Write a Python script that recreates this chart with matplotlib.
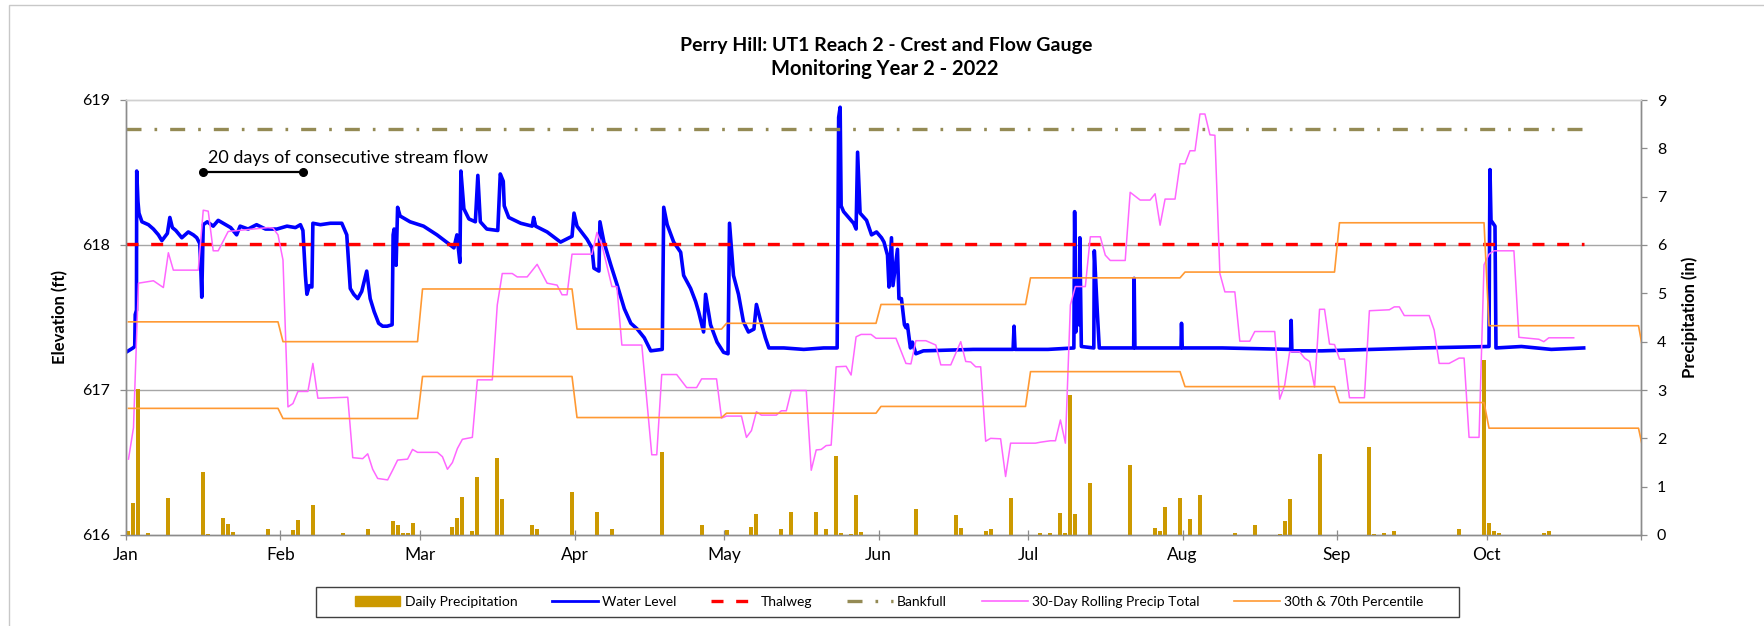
import numpy as np
import pandas as pd
import matplotlib
matplotlib.use("Agg")
import matplotlib.pyplot as plt
from matplotlib.patches import Rectangle, Patch
from matplotlib.lines import Line2D

plt.rcParams["font.family"] = ["Lato", "DejaVu Sans"]

YEAR_START = pd.Timestamp("2022-01-01")

# daily precipitation (in), day index counted from Jan 1
precip_day = [0, 1, 2, 4, 8, 15, 16, 19, 20, 21, 28,
              33, 34, 37, 43, 48, 53, 54, 55, 56, 57,
              65, 66, 67, 69, 70, 74, 75, 81, 82, 89,
              94, 97, 107, 115,
              120, 125, 126, 131, 133, 138, 140, 142, 143, 145, 146, 147,
              158, 166, 167, 172, 173, 177,
              183, 185, 187, 188, 189, 190, 193, 201, 206, 207, 208, 211,
              213, 215, 222, 226, 231, 232, 233, 239,
              249, 250, 252, 254, 267, 272,
              273, 274, 275, 284, 285]
precip_in = [0.09, 0.66, 3.03, 0.05, 0.76, 1.30, 0.03, 0.35, 0.22, 0.07, 0.12,
             0.11, 0.31, 0.62, 0.05, 0.12, 0.28, 0.21, 0.05, 0.05, 0.24,
             0.16, 0.35, 0.79, 0.08, 1.19, 1.59, 0.74, 0.21, 0.12, 0.88,
             0.47, 0.12, 1.71, 0.21,
             0.11, 0.17, 0.43, 0.12, 0.47, 0.47, 0.12, 1.64, 0.05, 0.03, 0.83, 0.07,
             0.53, 0.41, 0.14, 0.09, 0.12, 0.77,
             0.05, 0.05, 0.46, 0.04, 2.90, 0.43, 1.07, 1.45, 0.14, 0.09, 0.57, 0.77,
             0.34, 0.82, 0.05, 0.21, 0.03, 0.30, 0.74, 1.68,
             1.83, 0.03, 0.05, 0.09, 0.12, 3.62,
             0.24, 0.08, 0.05, 0.05, 0.09]

# 30-day rolling precipitation total (in)
roll_day = [0, 1, 2, 5, 7, 8, 9, 14, 15, 16, 17, 18, 20, 28, 29, 30, 31, 32, 33, 34,
            36, 37, 38, 44, 45, 47, 48, 49, 50, 52, 53, 54, 56, 57, 58, 62, 63, 64,
            65, 66, 67, 69, 70, 73, 74, 75, 77, 78, 80, 82, 84, 86, 87, 88, 89, 93,
            94, 95, 97, 98, 99, 103, 105, 106, 107, 110, 112, 114, 115, 118, 119,
            120, 123, 124, 125, 126, 127, 130, 131, 132, 133, 136, 137, 138, 139,
            140, 141, 142, 144, 145, 146, 147, 149, 150, 154, 156, 157, 158, 160,
            162, 163, 165, 167, 168, 169, 170, 171, 172, 173, 175, 176, 177, 182,
            183, 185, 186, 187, 188, 189, 190, 192, 193, 195, 196, 197, 200, 201,
            203, 205, 206, 207, 208, 210, 211, 212, 213, 214, 215, 216, 217, 218,
            219, 220, 222, 223, 225, 226, 230, 231, 232, 233, 235, 236, 237, 238,
            239, 240, 241, 242, 243, 244, 245, 248, 249, 253, 254, 255, 256, 261,
            262, 263, 265, 267, 268, 269, 271, 272, 273, 274, 278, 279, 281, 283,
            284, 285, 290]
roll_in = [1.57, 2.22, 5.21, 5.26, 5.12, 5.84, 5.48, 5.48, 6.72, 6.70, 5.88, 5.88, 6.28,
           6.36, 6.35, 6.21, 5.69, 2.65, 2.72, 2.97,
           2.97, 3.55, 2.83, 2.85, 1.60, 1.58, 1.68, 1.36, 1.17, 1.14, 1.34, 1.55, 1.57,
           1.77, 1.71, 1.71, 1.62, 1.36,
           1.50, 1.79, 1.98, 2.02, 3.21, 3.21, 4.76, 5.41, 5.41, 5.34, 5.34, 5.60, 5.21,
           5.17, 4.97, 4.97, 5.81, 5.81,
           6.26, 6.00, 5.14, 5.14, 3.93, 3.93, 1.66, 1.66, 3.32, 3.32, 3.05, 3.05, 3.23,
           3.23, 2.42,
           2.46, 2.46, 2.02, 2.16, 2.55, 2.48, 2.48, 2.57, 2.57, 2.99, 2.99, 1.34, 1.76,
           1.77,
           1.85, 1.86, 3.48, 3.49, 3.31, 4.10, 4.15, 4.15, 4.07, 4.07, 3.55, 3.54, 4.02,
           4.02,
           3.93, 3.52, 3.52, 4.00, 3.59, 3.58, 3.48, 3.48, 1.94, 2.00, 1.99, 1.21, 1.90,
           1.90,
           1.92, 1.95, 1.95, 2.38, 1.90, 4.76, 5.14, 5.14, 6.17, 6.17, 5.79, 5.68, 5.68,
           7.09,
           6.93, 6.93, 7.06, 6.41, 6.95, 6.95, 7.68, 7.68, 7.95, 7.95, 8.71, 8.71, 8.28,
           8.27,
           5.41, 5.03, 5.03, 4.01, 4.01, 4.21, 4.21, 2.81, 3.10, 3.79, 3.79, 3.66, 3.59,
           3.06,
           4.67, 4.67, 3.95, 3.94, 3.64, 3.64, 2.84, 2.84, 4.64, 4.66, 4.72, 4.72, 4.54,
           4.54,
           4.24, 3.55, 3.55, 3.66, 3.66, 2.02, 2.02, 5.59, 5.81, 5.88, 5.88, 4.09, 4.07,
           4.05,
           4.00, 4.08, 4.08]

# monthly 30th / 70th percentile of the 30-day total (in), Jan..Nov
pct30 = [2.62, 2.41, 3.28, 2.43, 2.52, 2.66, 3.38, 3.07, 2.74, 2.21, 1.73]
pct70 = [4.41, 4.00, 5.09, 4.26, 4.38, 4.77, 5.32, 5.44, 6.46, 4.33, 3.77]

# gauge water level (ft), time in days since Jan 1
wl_day = [0.0, 1.4, 1.75, 1.85, 2.1, 2.15, 2.4, 2.6, 3.2, 4.5, 5.5, 6.5, 7.2, 8.3, 8.8,
          9.3, 10.0, 11.2, 12.5, 13.5, 14.2, 14.8, 15.0, 15.2, 15.35, 15.5, 16.3, 17.5,
          18.5, 19.5, 21.0, 22.2, 22.9, 24.5, 26.2, 28.0, 30.3, 32.3, 34.0, 35.0, 35.5,
          36.0, 36.3, 36.8, 37.3, 37.5, 39.0, 41.0, 43.3, 44.3, 45.0, 45.7, 46.5, 47.3,
          48.3, 49.0, 49.8, 50.7, 51.5, 52.4, 53.4, 53.6, 53.8, 54.2, 54.5, 55.0, 57.0,
          59.7, 62.4, 64.7, 65.8, 66.4, 67.0, 67.2, 67.8, 68.8, 70.1, 70.6, 71.1, 72.4,
          74.6, 75.1, 75.7, 75.9, 76.8, 79.2, 81.5, 81.8, 82.2, 84.5, 87.2, 89.5, 89.9,
          90.5, 92.5, 93.5, 93.9, 94.9, 95.1, 95.9, 97.3, 98.6, 100.0, 101.3, 102.6,
          104.0, 105.3, 107.6, 107.9, 108.6, 109.9, 111.3, 111.9, 113.3, 114.3, 114.9,
          115.9, 116.3, 117.3, 118.6, 119.9, 120.8, 121.1, 121.9, 122.9, 123.9, 124.9,
          126.0, 126.5, 127.4, 128.3, 129.0, 132.0, 136.0, 140.0, 142.7, 143.0, 143.3,
          143.5, 144.0, 146.0, 146.5, 146.8, 147.3, 148.6, 149.6, 150.6, 151.6, 152.1,
          152.8, 153.1, 153.6, 153.9, 154.8, 155.1, 155.6, 156.2, 156.5, 156.8, 157.4,
          157.8, 158.5, 160.0, 170.0, 178.0, 178.2, 178.4, 185.0, 190.2, 190.35, 190.6,
          190.9, 191.2, 191.4, 191.7, 194.2, 194.3, 194.9, 195.3, 202.2, 202.3, 202.45,
          211.7, 211.8, 211.95, 220.0, 233.7, 233.8, 233.95, 240.0, 250.0, 260.0, 273.5,
          273.6, 273.7, 273.9, 274.7, 274.9, 280.0, 286.0, 292.5]
wl_elev = [617.26, 617.29, 617.30, 617.52, 617.55, 618.51, 618.30, 618.22, 618.16, 618.14,
           618.11, 618.07, 618.03, 618.08, 618.19, 618.12, 618.10, 618.05, 618.09, 618.07,
           618.05, 618.01, 617.85, 617.64, 617.90, 618.14, 618.16, 618.13, 618.17, 618.15,
           618.12, 618.07, 618.13, 618.11, 618.14, 618.11, 618.11, 618.13, 618.12, 618.14,
           618.10, 617.79, 617.66, 617.72, 617.71, 618.15, 618.14, 618.15, 618.15, 618.07,
           617.70, 617.66, 617.63, 617.68, 617.82, 617.63, 617.54, 617.46, 617.44, 617.44,
           617.45, 618.07, 618.11, 617.86, 618.26, 618.20, 618.16, 618.13, 618.07, 618.01,
           617.98, 618.07, 617.88, 618.51, 618.25, 618.18, 618.16, 618.48, 618.16, 618.11,
           618.10, 618.49, 618.44, 618.27, 618.19, 618.15, 618.13, 618.19, 618.13, 618.09,
           618.02, 618.06, 618.22, 618.13, 618.04, 617.98, 617.84, 617.82, 618.16, 618.02,
           617.86, 617.72, 617.56, 617.46, 617.42, 617.36, 617.27, 617.28, 618.26, 618.14,
           618.02, 617.95, 617.79, 617.70, 617.61, 617.54, 617.40, 617.66, 617.45, 617.33,
           617.26, 617.25, 618.15, 617.79, 617.66, 617.47, 617.40, 617.42, 617.59, 617.47,
           617.36, 617.29, 617.29, 617.28, 617.29, 617.29, 618.88, 618.95, 618.27, 618.23,
           618.15, 618.11, 618.64, 618.22, 618.17, 618.07, 618.09, 618.05, 618.02, 617.93,
           617.71, 618.05, 617.72, 617.97, 617.63, 617.63, 617.45, 617.43, 617.45, 617.29,
           617.33, 617.25, 617.27, 617.28, 617.28, 617.44, 617.28, 617.28, 617.29, 618.23,
           617.40, 617.76, 617.45, 618.05, 617.30, 617.29, 617.96, 617.54, 617.29, 617.29,
           617.77, 617.29, 617.29, 617.46, 617.29, 617.29, 617.28, 617.48, 617.27, 617.27,
           617.28, 617.29, 617.30, 618.00, 618.52, 618.17, 618.13, 617.29, 617.30, 617.28,
           617.29]

thalweg_ft = 618.01
bankfull_ft = 618.80
flow_start_day = 15.5
flow_run_days = 20

BLUE = "#0000FF"
RED = "#FF0000"
OLIVE = "#948A54"
PINK = "#FF66FF"
ORANGE = "#FF9933"
GOLD = "#CC9900"
AXIS_GRAY = "#8C8C8C"

W, H = 1765, 626
fig = plt.figure(figsize=(W / 100, H / 100), dpi=100)
ax = fig.add_axes([126 / W, 91 / H, 1515 / W, 435 / H])
ax2 = ax.twinx()

# chart-area border (only left and top edges fall inside the image)
fig.patches.append(Rectangle((9 / W, -0.5), 2.0, 1.5 - 5 / H, transform=fig.transFigure,
                             fill=False, edgecolor="#C8C8C8", lw=1.0))

month_starts = pd.date_range("2022-01-01", "2022-11-01", freq="MS")
month_pos = np.array((month_starts - YEAR_START).days, dtype=float)

# elevation axis
ax.set_xlim(month_pos[0], month_pos[-1])
ax.set_ylim(616, 619)
ax.set_yticks([616, 617, 618, 619])
for t in ax.get_yticks()[1:-1]:
    ax.axhline(t, color="#A6A6A6", lw=1.0, zorder=0)

ax.plot(wl_day, wl_elev, color=BLUE, lw=2.6, solid_joinstyle="round")
wl_span = [wl_day[0], wl_day[-1]]
ax.plot(wl_span, [thalweg_ft] * 2, color=RED, lw=2.4, dashes=(3.6, 3.8))
ax.plot(wl_span, [bankfull_ft] * 2, color=OLIVE, lw=2.4, dashes=(4.5, 3.9, 0.8, 3.9))

ax.plot([flow_start_day, flow_start_day + flow_run_days], [618.50, 618.50], color="black",
        lw=1.6, marker="o", ms=5.5)
ax.text(flow_start_day + 1.0, 618.60, "20 days of consecutive stream flow", fontsize=13,
        va="center", ha="left")

# precipitation axis
ax2.set_ylim(0, 9)
ax2.set_yticks(range(0, 10))
ax2.bar(np.array(precip_day) + 0.5, precip_in, width=0.8, color=GOLD, zorder=2)
ax2.plot(np.array(roll_day) + 0.5, roll_in, color=PINK, lw=1.1, zorder=3)

pct_dates = pd.date_range("2022-01-01", "2022-11-30", freq="D")
pct_x = np.array((pct_dates - YEAR_START).days, dtype=float) + 0.5
pct_month = pct_dates.month.values - 1
ax2.plot(pct_x, np.array(pct70)[pct_month], color=ORANGE, lw=1.2, zorder=3)
ax2.plot(pct_x, np.array(pct30)[pct_month], color=ORANGE, lw=1.2, zorder=3)

# axes styling
ax.set_xticks(month_pos)
ax.set_xticklabels(list(month_starts[:-1].strftime("%b")) + [""])
ax.tick_params(axis="x", direction="inout", length=7, width=0.9, color=AXIS_GRAY,
               labelsize=12.5, pad=5)
ax.tick_params(axis="y", direction="out", length=4.5, width=0.9, color=AXIS_GRAY,
               labelsize=11.5, pad=7)
ax2.tick_params(axis="y", direction="out", length=4.5, width=0.9, color=AXIS_GRAY,
                labelsize=11.5, pad=7)
for a in (ax, ax2):
    for side in ("left", "right", "bottom"):
        a.spines[side].set_color(AXIS_GRAY)
        a.spines[side].set_linewidth(1.0)
    a.spines["top"].set_color("#D0D0D0")
    a.spines["top"].set_linewidth(1.0)

ax.set_ylabel("Elevation (ft)", fontsize=12, fontweight="bold")
ax.yaxis.set_label_coords(-0.038, 0.5)
ax2.set_ylabel("Precipitation (in)", fontsize=12, fontweight="bold", rotation=90)
ax2.yaxis.set_label_coords(1.027, 0.5)

fig.text(886.5 / W, 1 - 46 / H, "Perry Hill: UT1 Reach 2 - Crest and Flow Gauge",
         ha="center", va="center", fontsize=14, fontweight="bold")
fig.text(885 / W, 1 - 69 / H, "Monitoring Year 2 - 2022",
         ha="center", va="center", fontsize=14.5, fontweight="bold")

handles = [
    Patch(facecolor=GOLD, edgecolor=GOLD),
    Line2D([], [], color=BLUE, lw=2.0),
    Line2D([], [], color=RED, lw=2.4, dashes=(3.6, 3.8)),
    Line2D([], [], color=OLIVE, lw=2.4, dashes=(4.5, 3.9, 0.8, 3.9)),
    Line2D([], [], color=PINK, lw=1.2),
    Line2D([], [], color=ORANGE, lw=1.2),
]
labels = ["Daily Precipitation", "Water Level", "Thalweg", "Bankfull",
          "30-Day Rolling Precip Total", "30th & 70th Percentile"]
fig.legend(handles, labels, ncol=6, loc="center",
           bbox_to_anchor=(889 / W, 1 - 602 / H), fontsize=10,
           frameon=False, handlelength=3.3, handleheight=0.7,
           handletextpad=0.3, columnspacing=2.5)
# legend box drawn separately to match the wide padding of the original
fig.patches.append(Rectangle((316 / W, 1 - 617 / H), (1459 - 316) / W, 30 / H,
                             transform=fig.transFigure, fill=False,
                             edgecolor="#404040", lw=1.0))

fig.savefig("out.png", dpi=100)
